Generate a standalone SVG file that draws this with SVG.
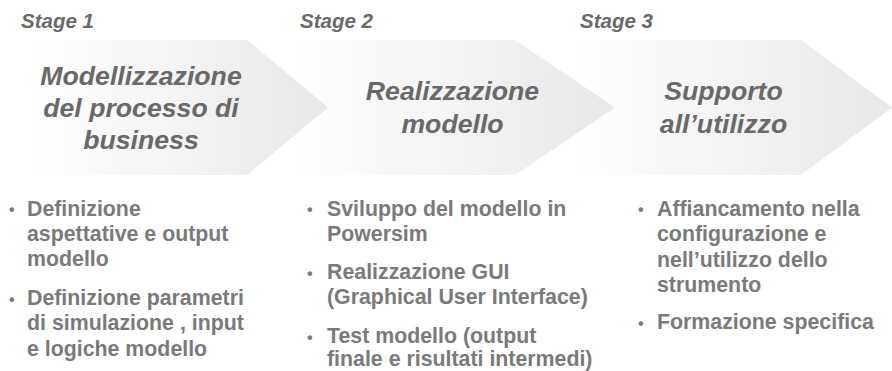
<svg xmlns="http://www.w3.org/2000/svg" width="892" height="371" viewBox="0 0 892 371">
<style>
text{font-family:"Liberation Sans",Arial,sans-serif;font-weight:bold;fill:#696969}
.s{font-size:20.5px;font-style:italic}
.t{font-size:26.67px;font-style:italic;text-anchor:middle}
.b{font-size:21.33px;fill:#7a7a7a}
.d{font-size:16px;fill:#7a7a7a}
</style>
<defs>
<linearGradient id="g" x1="0" y1="0" x2="1" y2="0"><stop offset="0" stop-color="#fff"/><stop offset="1" stop-color="#e8e8e8"/></linearGradient>
</defs>
<rect width="892" height="371" fill="#fff"/>
<g id="stage3">
<polygon points="570,40 801,40 892,107.500 801,175 570,175" fill="url(#g)"/>
<text class="s" x="580" y="28">Stage 3</text>
<text class="t" x="723.500" y="100">Supporto</text>
<text class="t" x="723.500" y="133">all’utilizzo</text>
<text class="d" x="638" y="215">•</text>
<text class="b" x="657" y="215.500">Affiancamento nella</text>
<text class="b" x="657" y="241">configurazione e</text>
<text class="b" x="657" y="267">nell’utilizzo dello</text>
<text class="b" x="657" y="292">strumento</text>
<text class="d" x="638" y="329">•</text>
<text class="b" x="657" y="329">Formazione specifica</text>
</g>
<g id="stage2">
<polygon points="290,40 515,40 615,107.500 515,175 290,175" fill="url(#g)"/>
<text class="s" x="300" y="28">Stage 2</text>
<text class="t" x="452.500" y="100">Realizzazione</text>
<text class="t" x="452.500" y="133">modello</text>
<text class="d" x="307" y="215">•</text>
<text class="b" x="327" y="215.500">Sviluppo del modello  in</text>
<text class="b" x="327" y="241">Powersim</text>
<text class="d" x="307" y="279">•</text>
<text class="b" x="327" y="279">Realizzazione GUI</text>
<text class="b" x="327" y="304">(Graphical User Interface)</text>
<text class="d" x="307" y="343">•</text>
<text class="b" x="327" y="343">Test modello (output</text>
<text class="b" x="327" y="366">finale e risultati intermedi)</text>
</g>
<g id="stage1">
<polygon points="30,40 247,40 328,107.500 247,175 30,175" fill="url(#g)"/>
<text class="s" x="21" y="28">Stage 1</text>
<text class="t" x="141" y="85">Modellizzazione</text>
<text class="t" x="141" y="117">del processo di</text>
<text class="t" x="141" y="149">business</text>
<text class="d" x="9" y="215">•</text>
<text class="b" x="27" y="215.500">Definizione</text>
<text class="b" x="27" y="241">aspettative e output</text>
<text class="b" x="27" y="266">modello</text>
<text class="d" x="9" y="305">•</text>
<text class="b" x="27" y="305">Definizione parametri</text>
<text class="b" x="27" y="330">di simulazione , input</text>
<text class="b" x="27" y="356">e logiche modello</text>
</g>
<g id="connectors"/>
</svg>
